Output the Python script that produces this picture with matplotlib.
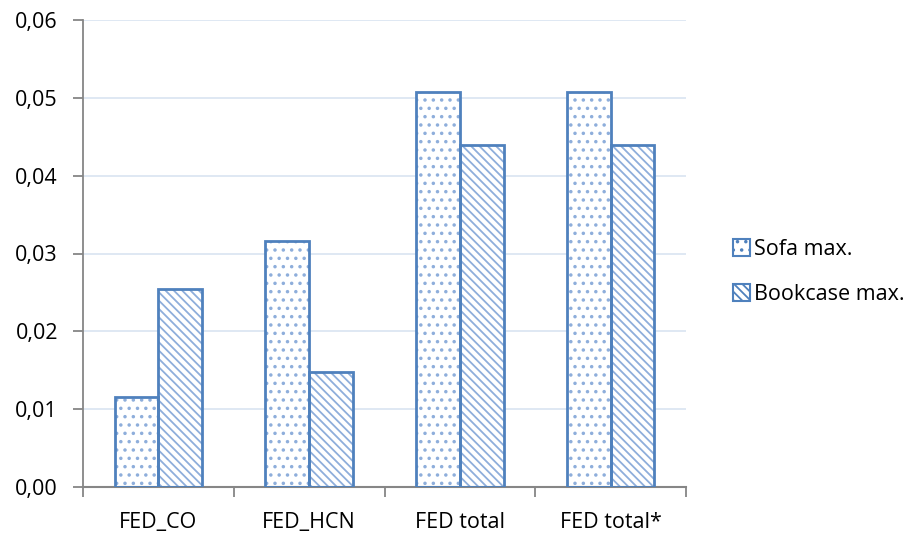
import numpy as np
import matplotlib
matplotlib.use('Agg')
import matplotlib.pyplot as plt
from matplotlib.patches import Patch

categories = ['FED_CO', 'FED_HCN', 'FED total', 'FED total*']
sofa_max = [0.0116, 0.0316, 0.0508, 0.0508]
bookcase_max = [0.0255, 0.0148, 0.0440, 0.0440]
series_labels = ['Sofa max.', 'Bookcase max.']
y_ticks = [0.0, 0.01, 0.02, 0.03, 0.04, 0.05, 0.06]

plt.rcParams['font.family'] = ['Open Sans', 'DejaVu Sans']
plt.rcParams['hatch.linewidth'] = 1.3

edge = '#4f81bd'
hatch_col = '#8eaedb'
fs = 15.5

fig = plt.figure(figsize=(9.07, 5.35), dpi=100)
ax = fig.add_axes([83 / 907, 48 / 535, 603 / 907, 467 / 535])

x = np.arange(len(categories))
w = 0.29

# hatch layer, then an outline layer on top
ax.bar(x - w / 2, sofa_max, w, color='white', edgecolor=hatch_col, hatch='..', linewidth=0, zorder=2)
ax.bar(x + w / 2, bookcase_max, w, color='white', edgecolor=hatch_col, hatch='\\\\\\\\', linewidth=0, zorder=2)
ax.bar(x - w / 2, sofa_max, w, color='none', edgecolor=edge, linewidth=2, zorder=3)
ax.bar(x + w / 2, bookcase_max, w, color='none', edgecolor=edge, linewidth=2, zorder=3)

ax.set_xlim(-0.5, len(categories) - 0.5)
ax.set_ylim(0, 0.06)
ax.set_yticks(y_ticks)
ax.set_yticklabels([f'{v:.2f}'.replace('.', ',') for v in y_ticks])
ax.set_xticks(x)
ax.set_xticklabels(categories)
ax.set_xticks(np.arange(len(categories) + 1) - 0.5, minor=True)
ax.tick_params(axis='x', which='major', length=0, pad=18, labelsize=fs)
ax.tick_params(axis='x', which='minor', length=7, color='#868686', width=1.3)
ax.tick_params(axis='y', length=7, color='#868686', width=1.3, labelsize=fs, pad=11)

ax.grid(axis='y', color='#dce6f2', linewidth=1.3, zorder=0)
ax.set_axisbelow(True)
for s in ['top', 'right']:
    ax.spines[s].set_visible(False)
ax.spines['left'].set_color('#868686')
ax.spines['bottom'].set_color('#868686')
ax.spines['left'].set_linewidth(1.3)
ax.spines['bottom'].set_linewidth(1.5)

handles = [Patch(facecolor='white', edgecolor=edge, hatch='..', linewidth=1.5),
           Patch(facecolor='white', edgecolor=edge, hatch='\\\\\\\\', linewidth=1.5)]
fig.legend(handles, series_labels, loc='center left', bbox_to_anchor=(722 / 907, 1 - 272 / 535),
           frameon=False, fontsize=fs, handlelength=0.8, handleheight=0.8, handletextpad=0.2,
           labelspacing=1.1, borderpad=0)

fig.savefig('out.png', dpi=100)
